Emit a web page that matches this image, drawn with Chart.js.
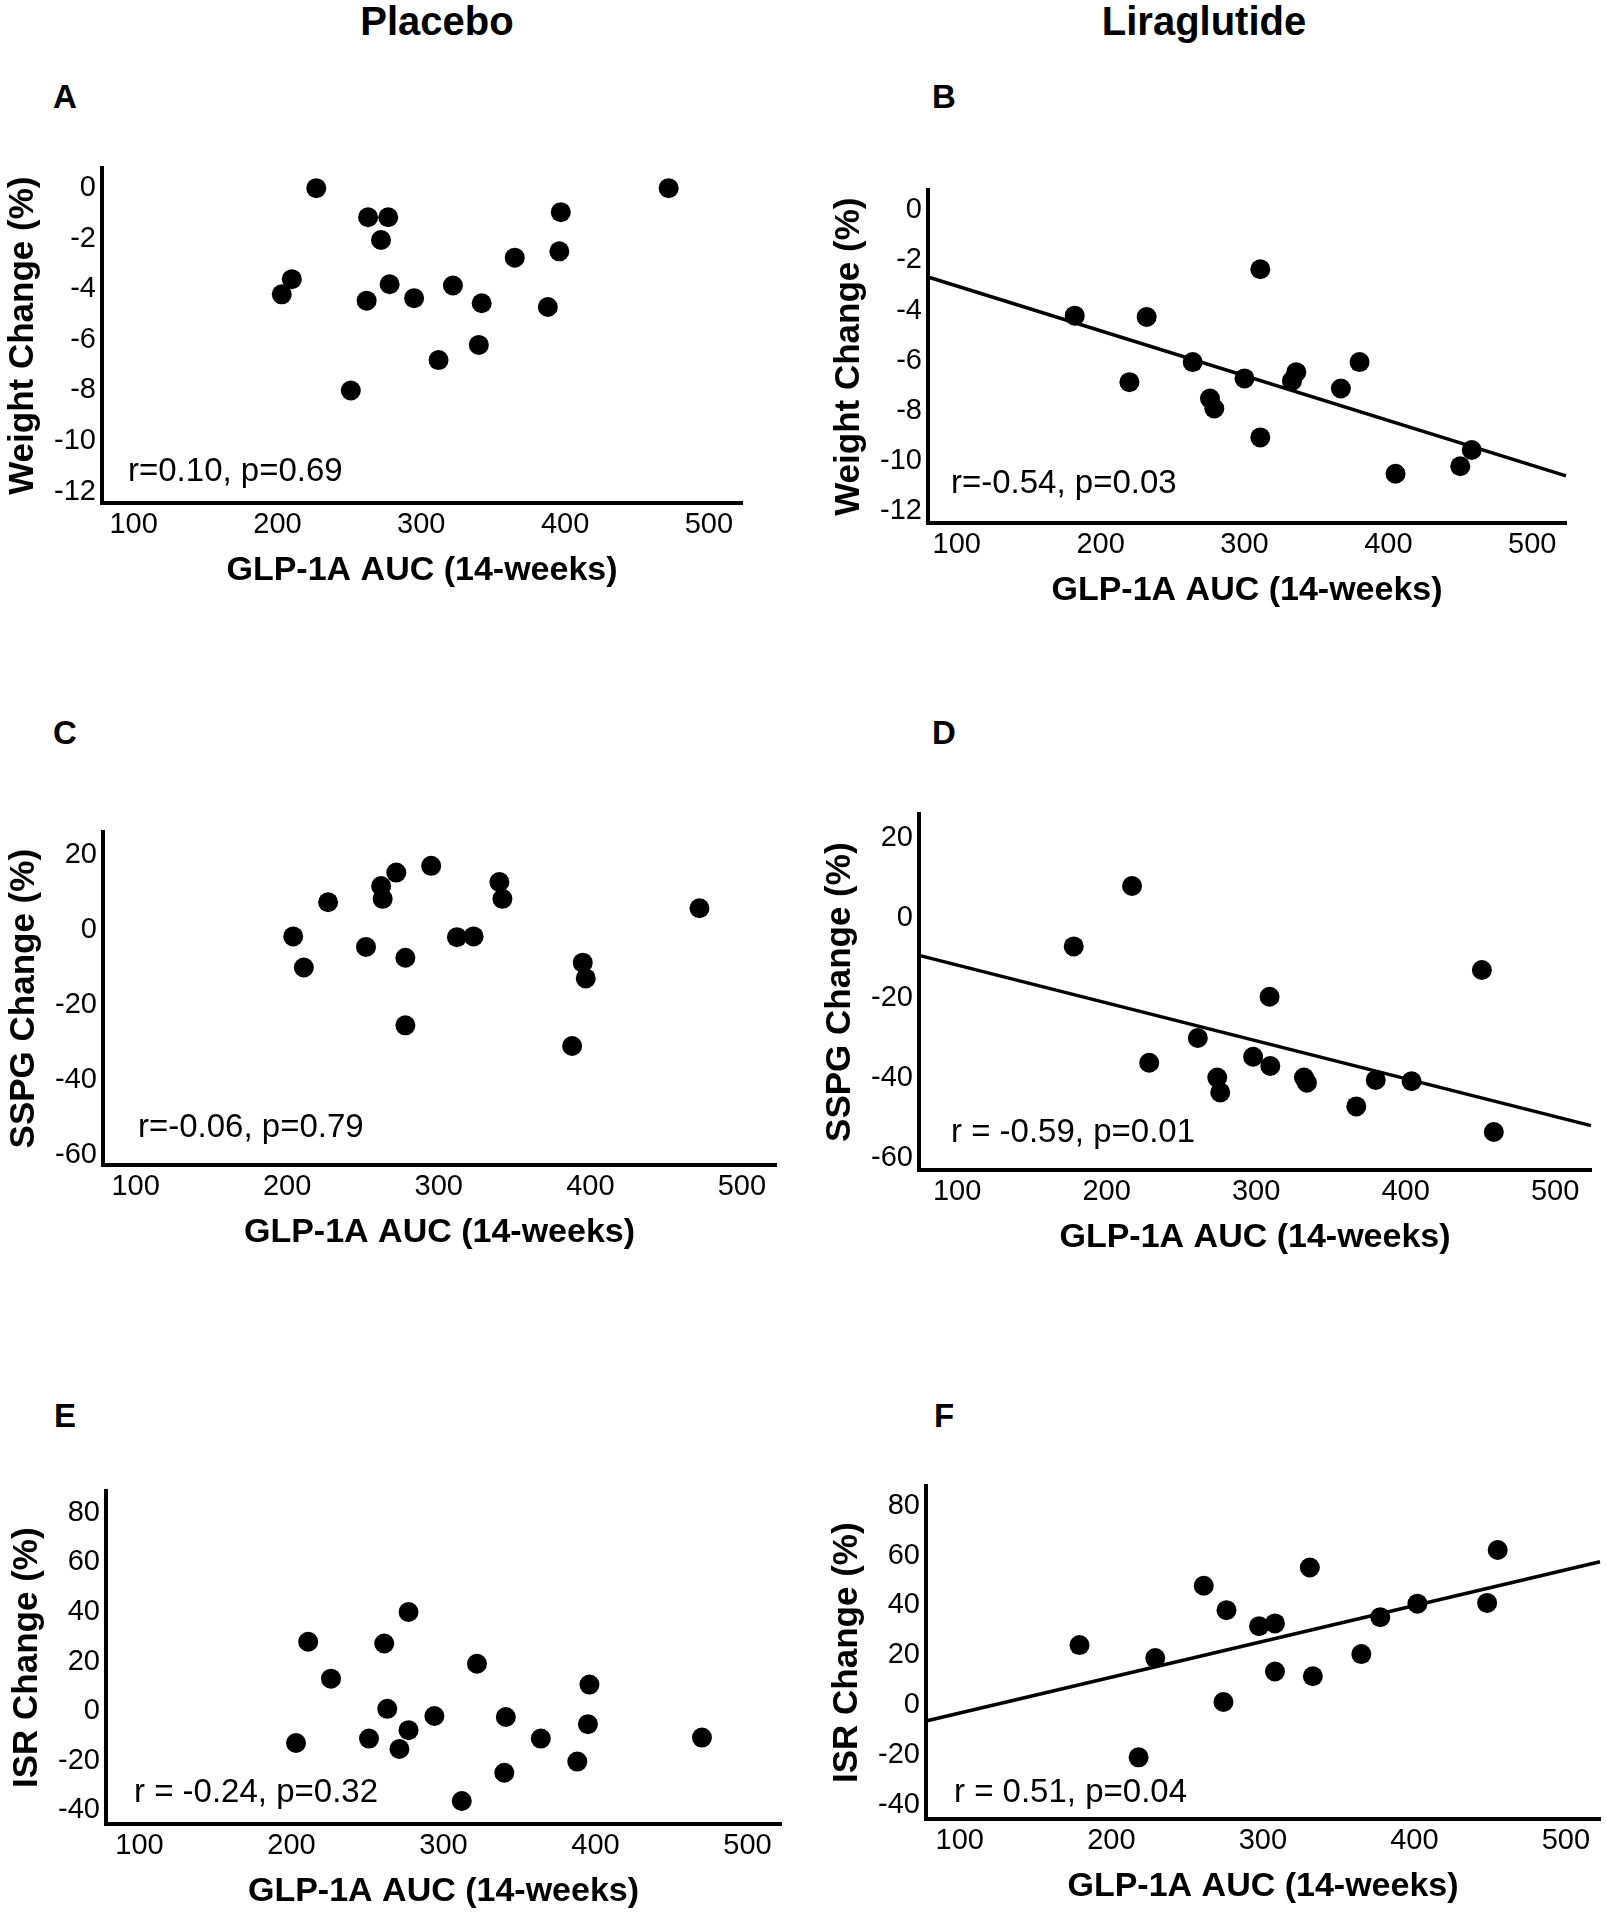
<!DOCTYPE html>
<html>
<head>
<meta charset="utf-8">
<title>GLP-1A AUC correlations</title>
<script src="https://cdn.jsdelivr.net/npm/chart.js@4.4.1/dist/chart.umd.min.js"></script>
<style>
  html, body { margin: 0; padding: 0; background: #fff; overflow: hidden; }
  #page { position: relative; width: 1606px; height: 1920px; overflow: hidden;
          font-family: "Liberation Sans", Arial, sans-serif; color: #000; }
  .col-title { position: absolute; top: 1px; font-size: 40px; font-weight: bold;
               line-height: 1; transform: translateX(-50%); white-space: nowrap; }
  .letter { position: absolute; font-size: 33px; font-weight: bold; line-height: 1;
            transform: translateX(-50%); }
  canvas { position: absolute; }
</style>
</head>
<body>
<div id="page">
  <div class="col-title" style="left:437px">Placebo</div>
  <div class="col-title" style="left:1204px">Liraglutide</div>

  <div class="letter" style="left:65px;top:80px">A</div>
  <div class="letter" style="left:944px;top:80px">B</div>
  <div class="letter" style="left:65px;top:716px">C</div>
  <div class="letter" style="left:944px;top:716px">D</div>
  <div class="letter" style="left:65px;top:1399px">E</div>
  <div class="letter" style="left:944px;top:1399px">F</div>

  <canvas id="chartA"></canvas>
  <canvas id="chartB"></canvas>
  <canvas id="chartC"></canvas>
  <canvas id="chartD"></canvas>
  <canvas id="chartE"></canvas>
  <canvas id="chartF"></canvas>
</div>

<script>
// tick labels
const xTicks = [100, 200, 300, 400, 500];
const weightTicks = [-12, -10, -8, -6, -4, -2, 0];
const sspgTicks = [-60, -40, -20, 0, 20];
const isrTicks = [-40, -20, 0, 20, 40, 60, 80];

// A: placebo, weight change
const aucA = [203, 210, 227, 251, 262, 263, 272, 277, 278, 295, 312, 322, 340, 342, 365, 388, 396, 397, 472];
const weightA = [-4.2, -3.6, 0.0, -8.0, -4.45, -1.15, -2.05, -1.15, -3.8, -4.35, -6.8, -3.85, -6.2, -4.55, -2.75, -4.7, -2.5, -0.95, 0.0];

// B: liraglutide, weight change
const aucB = [182, 220, 232, 264, 276, 279, 300, 311, 311, 333, 336, 367, 380, 405, 450, 458];
const weightB = [-4.2, -6.85, -4.25, -6.05, -7.5, -7.9, -6.7, -2.35, -9.05, -6.8, -6.45, -7.1, -6.05, -10.5, -10.2, -9.55];
const fitXB = [80, 523.5];
const fitYB = [-2.66, -10.58];

// C: placebo, SSPG change
const aucC = [204, 211, 227, 252, 262, 263, 272, 278, 278, 295, 312, 323, 340, 342, 388, 395, 397, 472];
const sspgC = [-1.8, -10.1, 7.3, -4.6, 11.6, 8.2, 15.2, -7.5, -25.5, 17.0, -2.0, -1.8, 12.7, 8.2, -31.0, -8.8, -13.0, 5.7];

// D: liraglutide, SSPG change
const aucD = [178, 217, 228.5, 261, 274, 276, 298, 309, 309.5, 332, 334, 367, 380, 404, 451, 459];
const sspgD = [-7.0, 8.1, -36.1, -29.9, -39.8, -43.5, -34.6, -19.6, -36.9, -39.8, -41.1, -47.0, -40.4, -40.7, -12.9, -53.4];
const fitXD = [74.5, 524];
const fitYD = [-9.24, -51.8];

// E: placebo, ISR change
const aucE = [203, 211, 226, 251, 261, 263, 271, 277, 277, 294, 312, 322, 340, 341, 364, 388, 395, 396, 470];
const isrE = [-12.9, 28.0, 13.1, -11.1, 27.3, 0.9, -15.3, 40.0, -7.7, -2.0, -36.3, 19.1, -24.9, -2.4, -11.1, -20.4, -5.3, 10.7, -10.7];

// F: liraglutide, ISR change
const aucF = [179, 218, 229, 261, 274, 276, 297.5, 308, 308, 331, 333, 365, 377.5, 402, 448, 455];
const isrF = [24.1, -20.9, 18.9, 47.9, 1.3, 38.1, 31.7, 32.8, 13.5, 55.2, 11.6, 20.5, 35.3, 40.7, 41.0, 62.2];
const fitXF = [77.7, 522.5];
const fitYF = [-6.35, 57.5];

const FONT = '"Liberation Sans", Arial, sans-serif';
const Y_W = 100;   // y axis box width (ticks + title)
const X_H = 100;   // x axis box height
const PAD_T = 20;
const PAD_R = 30;

// r / p text inside the plot, bottom left
const statText = {
  id: 'statText',
  afterDatasetsDraw(chart, args, opts) {
    const {ctx, chartArea} = chart;
    ctx.save();
    ctx.font = '33px ' + FONT;
    ctx.fillStyle = '#000';
    ctx.textBaseline = 'middle';
    ctx.fillText(opts.text, chartArea.left + opts.dx, chartArea.bottom - opts.dy);
    ctx.restore();
  }
};

const panels = [
  {id: 'chartA', left: 101.5, right: 741, top: 165, bottom: 502.5, xMin: 78, xMax: 523, yMin: -12.45, yMax: 0.78,
   yTicks: weightTicks, yTitle: 'Weight Change (%)', xs: aucA, ys: weightA, stat: 'r=0.10, p=0.69', dx: 26, dy: 31},
  {id: 'chartB', left: 928, right: 1566, top: 186.7, bottom: 522.5, xMin: 80, xMax: 523.5, yMin: -12.46, yMax: 0.79,
   yTicks: weightTicks, yTitle: 'Weight Change (%)', xs: aucB, ys: weightB, fitX: fitXB, fitY: fitYB,
   stat: 'r=-0.54, p=0.03', dx: 23, dy: 39},
  {id: 'chartC', left: 103, right: 776, top: 829.3, bottom: 1165, xMin: 78.5, xMax: 522.5, yMin: -62.7, yMax: 25.9,
   yTicks: sspgTicks, yTitle: 'SSPG Change (%)', xs: aucC, ys: sspgC, stat: 'r=-0.06, p=0.79', dx: 35, dy: 37},
  {id: 'chartD', left: 918.5, right: 1590, top: 810.7, bottom: 1170, xMin: 74.5, xMax: 524, yMin: -62.9, yMax: 26,
   yTicks: sspgTicks, yTitle: 'SSPG Change (%)', xs: aucD, ys: sspgD, fitX: fitXD, fitY: fitYD,
   stat: 'r = -0.59, p=0.01', dx: 32, dy: 37},
  {id: 'chartE', left: 105.5, right: 780, top: 1488.3, bottom: 1824, xMin: 78, xMax: 522, yMin: -45.6, yMax: 88.7,
   yTicks: isrTicks, yTitle: 'ISR Change (%)', xs: aucE, ys: isrE, stat: 'r = -0.24, p=0.32', dx: 28, dy: 31},
  {id: 'chartF', left: 925.7, right: 1600, top: 1483.3, bottom: 1819, xMin: 77.7, xMax: 522.5, yMin: -45.6, yMax: 87.7,
   yTicks: isrTicks, yTitle: 'ISR Change (%)', xs: aucF, ys: isrF, fitX: fitXF, fitY: fitYF,
   stat: 'r = 0.51, p=0.04', dx: 28, dy: 26}
];

function makePanel(p) {
  const canvas = document.getElementById(p.id);
  const w = Math.round(p.right - p.left + Y_W + PAD_R);
  const h = Math.round(PAD_T + p.bottom - p.top + X_H);
  canvas.width = w;
  canvas.height = h;
  canvas.style.width = w + 'px';
  canvas.style.height = h + 'px';
  canvas.style.left = (p.left - Y_W) + 'px';
  canvas.style.top = (p.top - PAD_T) + 'px';

  const datasets = [{
    data: p.xs.map((x, i) => ({x: x, y: p.ys[i]})),
    pointRadius: 10,
    pointBackgroundColor: '#000',
    pointBorderWidth: 0,
    showLine: false,
    clip: false
  }];
  if (p.fitX) {
    datasets.push({
      data: p.fitX.map((x, i) => ({x: x, y: p.fitY[i]})),
      showLine: true,
      borderColor: '#000',
      borderWidth: 3.5,
      pointRadius: 0,
      clip: false
    });
  }

  new Chart(canvas, {
    type: 'scatter',
    data: {datasets},
    plugins: [statText],
    options: {
      responsive: false,
      animation: false,
      events: [],
      layout: {padding: {top: PAD_T, right: PAD_R, left: 0, bottom: 0}},
      plugins: {
        legend: {display: false},
        tooltip: {enabled: false},
        statText: {text: p.stat, dx: p.dx, dy: p.dy}
      },
      scales: {
        x: {
          type: 'linear',
          min: p.xMin,
          max: p.xMax,
          grid: {display: false, drawTicks: false},
          border: {display: true, color: '#000', width: 4},
          ticks: {color: '#000', font: {family: FONT, size: 29}, padding: 5},
          title: {display: true, text: 'GLP-1A AUC (14-weeks)', color: '#000',
                  font: {family: FONT, size: 34, weight: 'bold'}, padding: {top: 0, bottom: 12}},
          afterBuildTicks: s => { s.ticks = xTicks.map(v => ({value: v})); },
          afterFit: s => { s.height = X_H; }
        },
        y: {
          type: 'linear',
          min: p.yMin,
          max: p.yMax,
          grid: {display: false, drawTicks: false},
          border: {display: true, color: '#000', width: 4},
          ticks: {color: '#000', font: {family: FONT, size: 29}, padding: 6},
          title: {display: true, text: p.yTitle, color: '#000',
                  font: {family: FONT, size: 35, weight: 'bold'}, padding: {top: 0, bottom: 0}},
          afterBuildTicks: s => { s.ticks = p.yTicks.map(v => ({value: v})); },
          afterFit: s => { s.width = Y_W; }
        }
      }
    }
  });
}

panels.forEach(makePanel);
</script>
</body>
</html>
